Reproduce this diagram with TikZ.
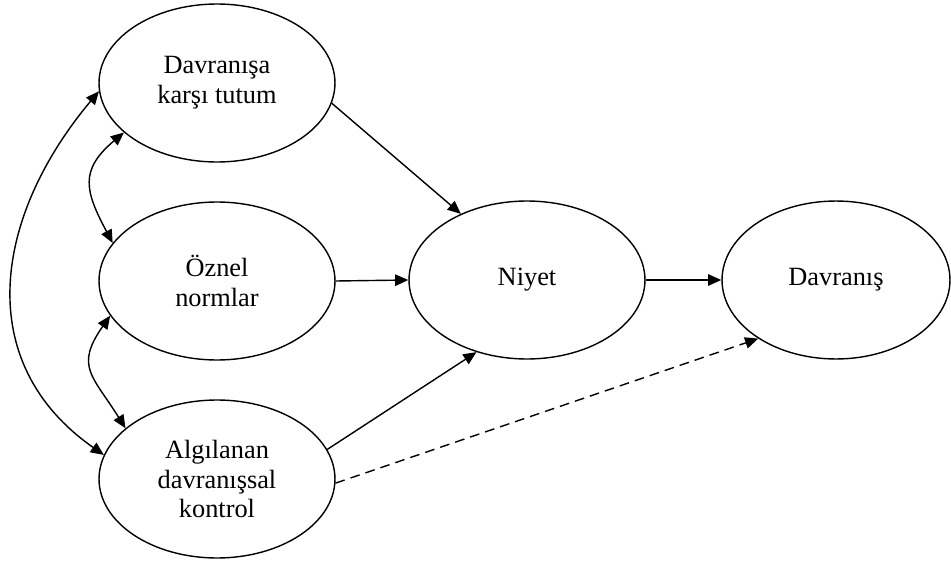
\documentclass[tikz,border=0pt]{standalone}
\usepackage{fontspec}
\setmainfont{Liberation Serif}
\usetikzlibrary{shapes.geometric,arrows.meta,positioning}

\begin{document}
\begin{tikzpicture}[
    x=0.02cm, y=0.02cm,
    construct/.style={ellipse, draw, line width=0.8pt, inner sep=0pt, align=center, minimum width=4.72cm, minimum height=3.16cm, font=\fontsize{15}{17}\selectfont},
    line/.style={draw, line width=0.8pt, -{Triangle[length=7.5pt, width=6.5pt]}},
    corr/.style={draw, line width=0.8pt, {Triangle[length=7.5pt, width=6.5pt]}-{Triangle[length=7.5pt, width=6.5pt]}}
]
    \useasboundingbox (0,0) rectangle (951,566);

    % Nodes
    \node [construct] (att) at (217,483) {Davranışa\\karşı tutum};
    \node [construct] (norm) at (217,285) {Öznel\\normlar};
    \node [construct] (pbc) at (217,87) {Algılanan\\davranışsal\\kontrol};
    \node [construct] (niyet) at (527,286) {Niyet};
    \node [construct, minimum width=4.56cm] (davr) at (836,286) {Davranış};

    % Paths
    \path [line] (att.-10) -- (niyet.135);
    \path [line] (norm.east) -- (niyet.west);
    \path [line] (pbc.15) -- (niyet.235);
    \path [line] (niyet.east) -- (davr.west);
    \path [line, dash pattern=on 5.5pt off 3.5pt] (pbc.-2) -- (davr.217);

    % Correlations
    \path [corr] (att.208) to [out=-140, in=118, looseness=1.35] (norm.160);
    \path [corr] (norm.198) to [out=-125, in=122, looseness=1.4] (pbc.151);
    \path [corr] (att.184) to [out=-130, in=145, looseness=1.14] (pbc.168);

\end{tikzpicture}
\end{document}
